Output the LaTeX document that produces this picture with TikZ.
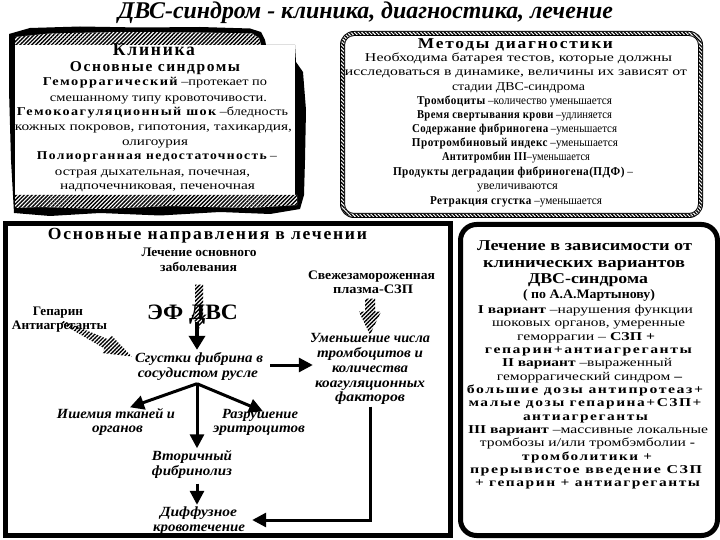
\documentclass[tikz,border=0pt]{standalone}
\usepackage{fontspec}
\usepackage{graphicx}
\setmainfont{Liberation Serif}
\newfontface\spb[LetterSpace=10]{Liberation Serif Bold}
\newfontface\spbs[LetterSpace=4]{Liberation Serif Bold}
\usetikzlibrary{arrows.meta,patterns.meta,calc}
\newcommand\fitw[2]{\resizebox{#1pt}{\height}{#2}}
\tikzset{
  ln/.style={inner sep=0pt, text height=8.5pt, text depth=2.5pt, font=\fontsize{12}{12}\selectfont},
  hd/.style={inner sep=0pt, text height=10pt, text depth=0pt, font=\fontsize{15}{15}\spb},
  hdb/.style={inner sep=0pt, text height=10pt, text depth=0pt, font=\fontsize{15}{15}\bfseries},
  tb/.style={inner sep=0pt, text height=9pt, text depth=2pt, font=\fontsize{13}{13}\bfseries},
  ti/.style={inner sep=0pt, text height=9pt, text depth=2pt, font=\fontsize{14}{14}\bfseries\itshape},
  hatch/.style={pattern={Lines[angle=45,distance=2.8pt,line width=1.4pt]}},
  blk/.style={line width=3.5pt, -{Triangle[length=14pt,width=16pt]}},
  blkt/.style={line width=3pt, -{Triangle[length=14pt,width=14pt]}},
}
\begin{document}
\begin{tikzpicture}[x=1pt,y=-1pt]
\useasboundingbox (0,0) rectangle (720,540);
\fill[white] (0,0) rectangle (720,540);

% ---------- title
\node[inner sep=0pt, anchor=base, font=\fontsize{24}{24}\bfseries\itshape] (title) at (365.5,19)
  {\fitw{495}{ДВС-синдром - клиника, диагностика, лечение}};

% ---------- box 1 : torn frame
\fill[black] (9,34) -- (30,28) -- (80,26.5) -- (140,27.5) -- (200,27) -- (250,28.5) -- (261,32) -- (265,40) -- (266,45)
  -- (295,45) -- (296,62) -- (303,72) -- (306,110) -- (305,160) -- (304,195) -- (300,209) -- (270,214)
  -- (220,212) -- (160,215.5) -- (100,213) -- (50,216) -- (14,213) -- (11,160) -- (9,90) -- cycle;
\fill[white] (15,45) rectangle (295,195);
\path[fill=white, postaction={hatch}] (15,37) -- (50,33.5) -- (120,32) -- (200,32.5) -- (252,33.5) -- (259,38) -- (261,45) -- (15,45) -- cycle;
\path[fill=white, postaction={hatch}] (15,195) -- (297,195) -- (297,205) -- (250,208) -- (170,206) -- (100,209) -- (40,207) -- (15,208) -- cycle;

% ---------- box 2 : rope frame
\path[fill=black, even odd rule] (340,31) [rounded corners=14pt] rectangle (703,218) (345,36) [rounded corners=9pt] rectangle (698,213);
\path[fill=white, even odd rule, postaction={pattern={Lines[angle=-45,distance=2.6pt,line width=1.3pt]}}]
  (341,32) [rounded corners=13pt] rectangle (702,217) (344,35) [rounded corners=10pt] rectangle (699,214);

% ---------- box 3 and box 4 frames
\draw[line width=5pt] (5.5,223.5) rectangle (450.5,535.5);
\draw[line width=5pt, rounded corners=16pt] (460.5,224.5) rectangle (717.5,535.5);

% ---------- box 1 text
\node[inner sep=0pt, text height=12pt, text depth=0pt, font=\fontsize{18}{18}\spb] (k1) at (154,50) {\fitw{82}{Клиника}};
\node[hd] (k2) at (155,67) {\fitw{170}{Основные синдромы}};
\node[ln] (k3) at (155,83) {\fitw{224}{{\spb Геморрагический} –протекает по}};
\node[ln] (k4) at (158.5,99) {\fitw{217}{смешанному типу кровоточивости.}};
\node[ln] (k5) at (152.5,113) {\fitw{271}{{\spb Гемокоагуляционный шок} –бледность}};
\node[ln] (k6) at (153.5,128) {\fitw{277}{кожных покровов, гипотония, тахикардия,}};
\node[ln] (k7) at (155,143) {\fitw{66}{олигоурия}};
\node[ln] (k8) at (157,157) {\fitw{240}{{\spb Полиорганная недостаточность} –}};
\node[ln] (k9) at (152.5,173) {\fitw{195}{острая дыхательная, почечная,}};
\node[ln] (k10) at (157.5,187) {\fitw{195}{надпочечниковая, печеночная}};

% ---------- box 2 text
\node[hd] (d1) at (515.5,44) {\fitw{195}{Методы диагностики}};
\node[ln] (d2) at (518.5,59) {\fitw{307}{Необходима батарея тестов, которые должны}};
\node[ln] (d3) at (516,73) {\fitw{342}{исследоваться в динамике, величины их зависят от}};
\node[ln] (d4) at (518.5,88) {\fitw{133}{стадии ДВС-синдрома}};
\node[ln] (d5) at (514.5,102) {\fitw{195}{{\spbs Тромбоциты} –количество уменьшается}};
\node[ln] (d6) at (514.5,116) {\fitw{195}{{\spbs Время свертывания крови} –удлиняется}};
\node[ln] (d7) at (514.5,130) {\fitw{205}{{\spbs Содержание фибриногена} –уменьшается}};
\node[ln] (d8) at (515,144) {\fitw{206}{{\spbs Протромбиновый индекс} –уменьшается}};
\node[ln] (d9) at (516,158) {\fitw{148}{{\spbs Антитромбин III}–уменьшается}};
\node[ln] (d10) at (513,173) {\fitw{240}{{\spbs Продукты деградации фибриногена(ПДФ)} –}};
\node[ln] (d11) at (517.5,187) {\fitw{81}{увеличиваются}};
\node[ln] (d12) at (516,202) {\fitw{172}{{\spbs Ретракция сгустка} –уменьшается}};

% ---------- box 4 text
\node[hdb] (v1) at (584.5,245) {\fitw{215}{Лечение в зависимости от}};
\node[hdb] (v2) at (584,262) {\fitw{202}{клинических вариантов}};
\node[hdb] (v3) at (588,278) {\fitw{120}{ДВС-синдрома}};
\node[inner sep=0pt, text height=9pt, text depth=0pt, font=\fontsize{13}{13}\bfseries] (v4) at (589,294) {\fitw{132}{( по А.А.Мартынову)}};
\node[ln] (v5) at (585.5,310) {\fitw{215}{{\bfseries I вариант} –нарушения функции}};
\node[ln] (v6) at (588.5,323) {\fitw{193}{шоковых органов, умеренные}};
\node[ln] (v7) at (586,337) {\fitw{138}{геморрагии – {\bfseries СЗП +}}};
\node[ln] (v8) at (588.5,350) {\fitw{207}{{\spb гепарин+антиагреганты}}};
\node[ln] (v9) at (587,363) {\fitw{170}{{\bfseries II вариант} –выраженный}};
\node[ln] (v10) at (589.5,377) {\fitw{185}{геморрагический синдром {\bfseries –}}};
\node[ln] (v11) at (585,390) {\fitw{236}{{\spb большие дозы антипротеаз+}}};
\node[ln] (v12) at (585,403) {\fitw{233}{{\spb малые дозы гепарина+СЗП+}}};
\node[ln] (v13) at (585.5,417) {\fitw{125}{{\spb антиагреганты}}};
\node[ln] (v14) at (588,430) {\fitw{240}{{\bfseries III вариант} –массивные локальные}};
\node[ln] (v15) at (587.5,443) {\fitw{215}{тромбозы и/или тромбэмболии {\bfseries -}}};
\node[ln] (v16) at (587,457) {\fitw{130}{{\spb тромболитики +}}};
\node[ln] (v17) at (586,470) {\fitw{232}{{\spb прерывистое введение СЗП}}};
\node[ln] (v18) at (587.5,483) {\fitw{225}{{\spb + гепарин + антиагреганты}}};

% ---------- box 3 text
\node[inner sep=0pt, text height=11pt, text depth=0pt, font=\fontsize{17}{17}\spb] (t3) at (207.5,234) {\fitw{319}{Основные направления в лечении}};
\node[tb] (osn1) at (199,253) {\fitw{115}{Лечение основного}};
\node[tb] (osn2) at (198.5,268) {\fitw{77}{заболевания}};
\node[tb] (hep1) at (58,312) {\fitw{50}{Гепарин}};
\node[tb] (hep2) at (59.5,326) {\fitw{95}{Антиагреганты}};
\node[tb] (szp1) at (371.5,276) {\fitw{127}{Свежезамороженная}};
\node[tb] (szp2) at (373,290) {\fitw{80}{плазма-СЗП}};

% hatched arrows (drawn under text)
\coordinate (ha) at ($(osn2.south)+(0.5,11)$);
\fill[hatch] ($(ha)+(-4,0)$) -- ($(ha)+(4,0)$) -- ($(ha)+(4,30)$) -- ($(ha)+(8,30)$) -- ($(ha)+(0,44)$) -- ($(ha)+(-8,30)$) -- ($(ha)+(-4,30)$) -- cycle;
\coordinate (hb) at ($(szp2.south)+(-3,3)$);
\fill[hatch] ($(hb)+(-5,0)$) -- ($(hb)+(5,0)$) -- ($(hb)+(5,13)$) -- ($(hb)+(11,13)$) -- ($(hb)+(0,36)$) -- ($(hb)+(-11,13)$) -- ($(hb)+(-5,13)$) -- cycle;

\node[inner sep=0pt, text height=15pt, text depth=0pt, font=\fontsize{22}{22}\bfseries] (ef) at (192.5,312) {\fitw{91}{ЭФ ДВС}};

\node[ti] (sg1) at (199,359) {\fitw{128}{Сгустки фибрина в}};
\node[ti] (sg2) at (198,374) {\fitw{120}{сосудистом русле}};

\coordinate (hs) at ($(hep2.center)+(2.5,-4)$);
\coordinate (he) at ($(sg1.west)+(-3,-2.5)$);
\coordinate (hm) at ($(hs)!0.64!(he)$);
\fill[hatch] ($(hs)!1.5pt!90:(he)$) -- ($(hm)!5pt!90:(he)$) -- ($(hm)!10pt!90:(he)$) -- (he)
  -- ($(hm)!10pt!-90:(he)$) -- ($(hm)!5pt!-90:(he)$) -- ($(hs)!1.5pt!-90:(he)$) -- cycle;

\node[ti] (um1) at (370,339) {\fitw{120}{Уменьшение числа}};
\node[ti] (um2) at (370,354) {\fitw{106}{тромбоцитов и}};
\node[ti] (um3) at (370,369) {\fitw{76}{количества}};
\node[ti] (um4) at (370,384) {\fitw{110}{коагуляционных}};
\node[ti] (um5) at (370,398) {\fitw{70}{факторов}};
\node[ti] (ish1) at (116,415) {\fitw{118}{Ишемия тканей и}};
\node[ti] (ish2) at (117.5,429) {\fitw{51}{органов}};
\node[ti] (raz1) at (260,415) {\fitw{76}{Разрушение}};
\node[ti] (raz2) at (259,429) {\fitw{92}{эритроцитов}};
\node[ti] (vt1) at (192,457) {\fitw{80}{Вторичный}};
\node[ti] (vt2) at (192,472) {\fitw{80}{фибринолиз}};
\node[ti] (dif1) at (198.5,513) {\fitw{77}{Диффузное}};
\node[ti] (dif2) at (199,528) {\fitw{92}{кровотечение}};

% ---------- black arrows
\draw[blk] ($(ef.south)+(4.5,2)$) -- ($(sg1.north)+(-2,-3.5)$);
\draw[blkt] ($(sg1.east)+(7,6)$) -- ($(sg1.east -| um1.west)+(3,6)$);
\coordinate (fan) at ($(sg2.south)+(-1,4)$);
\draw[blkt] (fan) -- ($(ish1.north)+(14,-2)$);
\draw[blkt] (fan) -- ($(raz1.north)+(3,2)$);
\draw[blkt] (fan) -- ($(vt1.north)+(5,-3)$);
\draw[blkt] ($(vt2.south)+(5,6)$) -- ($(dif1.north)+(-1.5,-2.5)$);
\draw[blkt] ($(um5.south)+(0,3)$) |- ($(dif2.east)+(7,-8)$);
\end{tikzpicture}
\end{document}
